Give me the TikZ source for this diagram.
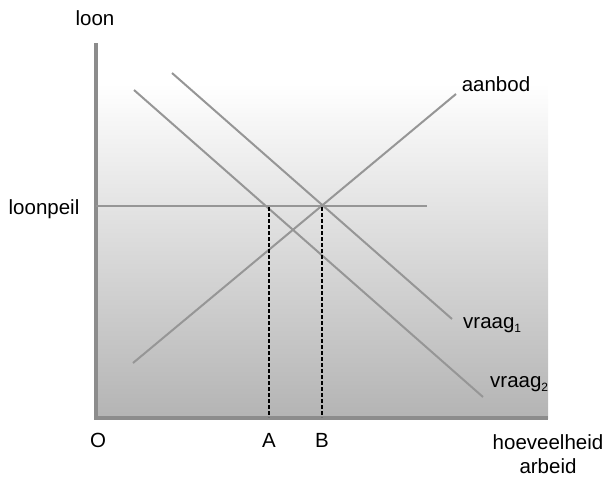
\documentclass[tikz,border=0pt]{standalone}
\usepackage{fontspec}
\setmainfont{Liberation Sans}
\usetikzlibrary{positioning}
\definecolor{linegray}{RGB}{150,150,150}
\definecolor{axisgray}{RGB}{140,140,140}
\definecolor{bottomgray}{RGB}{180,180,180}

\newcommand{\lowsub}[1]{\raisebox{-0.4ex}{\fontsize{12}{12}\selectfont #1}}

\tikzset{
  curve/.style={draw=linegray, line width=2pt},
  guide/.style={draw=black, line width=2.2pt, dash pattern=on 3.5pt off 2.5pt},
  lbl/.style={inner sep=0pt, font=\fontsize{20.5}{24}\selectfont}
}

\begin{document}
\begin{tikzpicture}[x=1pt, y=-1pt]
  \useasboundingbox (0,0) rectangle (606,477);
  % background
  \shade[top color=white, bottom color=bottomgray] (96,83) rectangle (548,418);

  % axes
  \coordinate (orig) at (96,418);
  \coordinate (ytop) at (96,43);
  \coordinate (xend) at (548,418);
  \draw[draw=axisgray, line width=3.2pt] (ytop) -- (orig) -- (xend);

  % curves
  \coordinate (s1) at (133,363);
  \coordinate (s2) at (456,94);
  \coordinate (d1a) at (172,73);
  \coordinate (d1b) at (452,319);
  \coordinate (d2a) at (134,90);
  \coordinate (d2b) at (483,397);
  \coordinate (p1) at (96,206);
  \coordinate (p2) at (427,206);
  \draw[curve] (p1) -- (p2);
  \draw[curve] (s1) -- (s2);
  \draw[curve] (d1a) -- (d1b);
  \draw[curve] (d2a) -- (d2b);

  % dotted guides
  \coordinate (ptA) at (269,207);
  \coordinate (ptB) at (322,207);
  \coordinate (xA) at (269,417);
  \coordinate (xB) at (322,417);
  \draw[guide] (ptA) -- (xA);
  \draw[guide] (ptB) -- (xB);

  % labels
  \node[lbl] (loon) at (95,18) {loon};
  \node[lbl] (loonpeil) at (44,209) {loonpeil};
  \node[lbl] (aanbod) at (496,84) {aanbod};
  \node[lbl, anchor=west] (vraag1) at (463,325) {vraag\lowsub{1}};
  \node[lbl, anchor=west] (vraag2) at (490,384) {vraag\lowsub{2}};
  \node[lbl] (O) at (98,440) {O};
  \node[lbl] (A) at (269,440) {A};
  \node[lbl] (B) at (322,440) {B};
  \node[lbl, align=center] (hoev) at (548,454) {hoeveelheid\\arbeid};
\end{tikzpicture}
\end{document}
